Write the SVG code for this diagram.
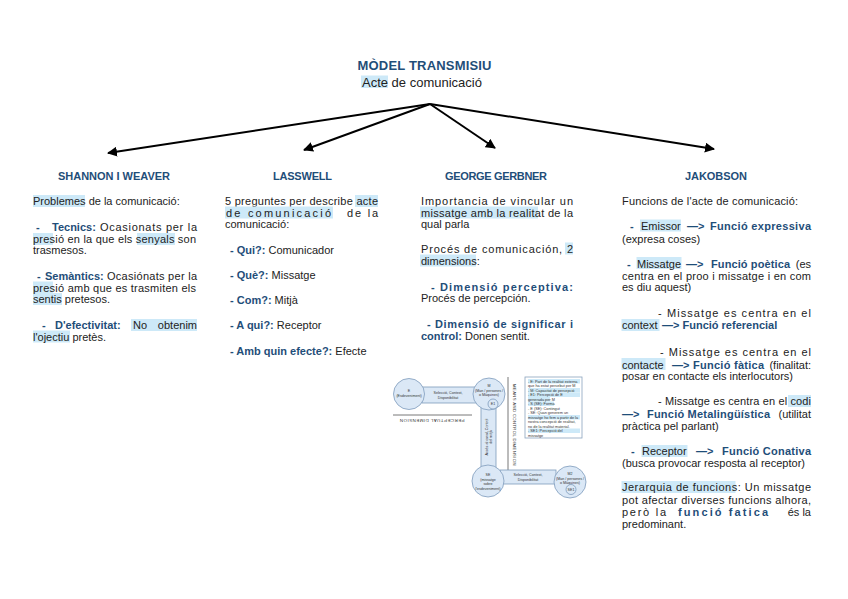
<svg xmlns="http://www.w3.org/2000/svg" width="848" height="599" viewBox="0 0 848 599">
<style>
.t{font-family:"Liberation Sans",Arial,sans-serif;font-size:11px;fill:#222}
.b{font-family:"Liberation Sans",Arial,sans-serif;font-size:11px;font-weight:bold;fill:#1f4e79}
.h{font-family:"Liberation Sans",Arial,sans-serif;font-size:11px;font-weight:bold;fill:#1f4e79;text-anchor:middle}
.hl{fill:#cde9f8}
.arr{stroke:#000;stroke-width:2;fill:none;marker-end:url(#ah)}
.mc{fill:#dbe8f6;stroke:#7d9bbb;stroke-width:0.8}
.mt{font-family:"Liberation Sans",Arial,sans-serif;font-size:3.6px;fill:#333;text-anchor:middle}
.ms{font-family:"Liberation Sans",Arial,sans-serif;font-size:3.8px;fill:#333}
</style>
<defs>
<marker id="ah" viewBox="0 0 10 10" refX="9" refY="5" markerWidth="5" markerHeight="5" orient="auto" markerUnits="strokeWidth"><path d="M0,0 L10,5 L0,10 z" fill="#000"/></marker>
</defs>
<rect width="848" height="599" fill="#fff"/>

<g id="title">
<text x="424.5" y="69.5" class="h" style="font-size:13px" textLength="134">MÒDEL TRANSMISIU</text>
<rect class="hl" x="361" y="75.5" width="27" height="12.5"/>
<text x="362" y="86.5" class="t" style="font-size:13px">Acte de comunicació</text>
</g>

<g id="connectors">
<line class="arr" x1="430" y1="104" x2="108" y2="153"/>
<line class="arr" x1="430" y1="104" x2="304" y2="150"/>
<line class="arr" x1="430" y1="104" x2="495" y2="148"/>
<line class="arr" x1="430" y1="104" x2="714" y2="149"/>
</g>

<g id="shannon">
<text x="114" y="180" class="h" textLength="112">SHANNON I WEAVER</text>
<rect class="hl" x="33" y="195" width="52" height="12"/>
<text x="33" y="205" class="t">Problemes de la comunicació:</text>
<text x="36" y="231" class="b">-</text>
<text x="52" y="231" class="b">Tecnics:</text>
<text x="100" y="231" class="t" textLength="97" lengthAdjust="spacing">Ocasionats per la</text>
<rect class="hl" x="33" y="233" width="20" height="12"/>
<rect class="hl" x="137" y="233" width="38" height="12"/>
<text x="33" y="242.5" class="t" textLength="163" lengthAdjust="spacing">presió en la que els senyals son</text>
<text x="33" y="254" class="t">trasmesos.</text>
<text x="37" y="280" class="b">-</text>
<text x="45" y="280" class="b">Semàntics:</text>
<text x="107" y="280" class="t" textLength="90" lengthAdjust="spacing">Ocasiónats per la</text>
<rect class="hl" x="33" y="281.5" width="20" height="12"/>
<rect class="hl" x="33" y="293" width="29" height="12"/>
<text x="33" y="291.5" class="t" textLength="163" lengthAdjust="spacing">presió amb que es trasmiten els</text>
<text x="33" y="303" class="t">sentis pretesos.</text>
<text x="42" y="329" class="b">-</text>
<text x="55" y="329" class="b">D'efectivitat:</text>
<rect class="hl" x="131" y="319" width="66" height="12"/>
<text x="133" y="329" class="t">No</text>
<text x="197" y="329" class="t" style="text-anchor:end">obtenim</text>
<rect class="hl" x="33" y="330.5" width="37" height="12"/>
<text x="33" y="340.5" class="t">l'ojectiu pretès.</text>
</g>

<g id="lasswell">
<text x="302.5" y="180" class="h" textLength="59">LASSWELL</text>
<rect class="hl" x="355" y="195" width="23" height="12"/>
<text x="225" y="205" class="t" textLength="153" lengthAdjust="spacing">5 preguntes per describe acte</text>
<rect class="hl" x="225" y="206.5" width="108" height="12"/>
<text x="226" y="216.5" class="t" textLength="105" lengthAdjust="spacing">de comunicació</text>
<text x="347" y="216.5" class="t" textLength="31" lengthAdjust="spacing">de la</text>
<text x="225" y="228" class="t">comunicació:</text>
<text x="230" y="254" class="t"><tspan class="b">- Qui?:</tspan> Comunicador</text>
<text x="230" y="279" class="t"><tspan class="b">- Què?:</tspan> Missatge</text>
<text x="230" y="304" class="t"><tspan class="b">- Com?:</tspan> Mitjà</text>
<text x="230" y="329" class="t"><tspan class="b">- A qui?:</tspan> Receptor</text>
<text x="230" y="354.5" class="t"><tspan class="b">- Amb quin efecte?:</tspan> Efecte</text>
</g>

<g id="gerbner">
<text x="496" y="180" class="h" textLength="102">GEORGE GERBNER</text>
<text x="421" y="205" class="t" textLength="152" lengthAdjust="spacing">Importancia de vincular un</text>
<rect class="hl" x="420" y="206.5" width="118" height="12"/>
<text x="421" y="216.5" class="t" textLength="152" lengthAdjust="spacing">missatge amb la realitat de la</text>
<text x="421" y="228" class="t">qual parla</text>
<rect class="hl" x="565" y="242.5" width="8" height="12"/>
<text x="421" y="253" class="t" textLength="152" lengthAdjust="spacing">Procés de comunicación, 2</text>
<rect class="hl" x="420" y="254.5" width="56" height="12"/>
<text x="421" y="265" class="t">dimensions:</text>
<text x="431" y="291" class="b" textLength="142" lengthAdjust="spacing">- Dimensió perceptiva:</text>
<text x="421" y="301.5" class="t">Procés de percepción.</text>
<text x="427" y="328" class="b" textLength="146" lengthAdjust="spacing">- Dimensió de significar i</text>
<text x="421" y="340" class="t"><tspan class="b">control:</tspan> Donen sentit.</text>
</g>

<g id="mini-diagram">
<rect class="mc" x="422" y="387" width="54" height="16"/>
<circle class="mc" cx="409" cy="394" r="15.5"/>
<text class="mt" x="409" y="392">E</text>
<text class="mt" x="409" y="397">(Esdeveniment)</text>
<text class="mt" x="448" y="394">Selecció, Context,</text>
<text class="mt" x="448" y="398.5">Disponibilitat</text>
<rect class="mc" x="481" y="405" width="15" height="64"/>
<circle class="mc" cx="489" cy="394" r="16"/>
<text class="mt" x="489" y="387">M</text>
<text class="mt" x="489" y="391.5">(Man / persones /</text>
<text class="mt" x="489" y="396">o Màquines)</text>
<circle class="mc" cx="493" cy="404" r="5"/>
<text class="mt" x="493" y="405.3">E1</text>
<text class="mt" transform="translate(488.5,437) rotate(-90)" x="0" y="-1">Accés al canal, Control</text>
<text class="mt" transform="translate(488.5,437) rotate(-90)" x="0" y="3.5">del mitjà</text>
<line x1="393" y1="415" x2="472" y2="415" stroke="#555" stroke-width="0.8"/>
<text class="mt" style="font-size:4.4px;letter-spacing:0.5px" transform="translate(432,418.5) rotate(180)">PERCEPTUAL DIMENSION</text>
<line x1="508" y1="377" x2="508" y2="470" stroke="#555" stroke-width="0.8"/>
<text class="mt" style="font-size:4.2px;letter-spacing:0.4px" transform="translate(513,425) rotate(90)">MEANS AND CONTROL DIMENSION</text>
<rect class="mc" x="500" y="470" width="56" height="14"/>
<circle class="mc" cx="488" cy="481" r="16"/>
<text class="mt" x="488" y="476">SE</text>
<text class="mt" x="488" y="480.5">(missatge</text>
<text class="mt" x="488" y="485">sobre</text>
<text class="mt" x="488" y="489.5">l'esdeveniment)</text>
<text class="mt" x="528" y="476">Selecció, Context,</text>
<text class="mt" x="528" y="480.5">Disponibilitat</text>
<circle class="mc" cx="570" cy="482" r="16"/>
<text class="mt" x="570" y="475">M2</text>
<text class="mt" x="570" y="479.5">(Man / persones /</text>
<text class="mt" x="570" y="484">o Màquines)</text>
<circle class="mc" cx="571" cy="489.5" r="5"/>
<text class="mt" x="571" y="490.8">SE1</text>
<rect x="525" y="377" width="57" height="61" fill="#fff" stroke="#8aa3bd" stroke-width="0.8"/>
<rect class="hl" x="528" y="379" width="52" height="4.5"/>
<rect class="hl" x="528" y="388" width="52" height="4.5"/>
<rect class="hl" x="528" y="392.5" width="52" height="4.5"/>
<rect class="hl" x="528" y="397" width="22" height="4.5"/>
<rect class="hl" x="528" y="401.5" width="26" height="4.5"/>
<rect class="hl" x="528" y="415" width="52" height="4.5"/>
<rect class="hl" x="528" y="428.5" width="52" height="4.5"/>
<text class="ms" x="528" y="382.5">- E: Part de la realitat externa</text>
<text class="ms" x="528" y="387">que ha estat percebut per M</text>
<text class="ms" x="528" y="391.5">- M: Capacitat de percepció</text>
<text class="ms" x="528" y="396">- E1: Percepció de E</text>
<text class="ms" x="528" y="400.5">generada per M</text>
<text class="ms" x="528" y="405">- S (SE): Forma</text>
<text class="ms" x="528" y="409.5">- E (SE): Contingut</text>
<text class="ms" x="528" y="414">- SE: Quan generem un</text>
<text class="ms" x="528" y="418.5">missatge ho fem a partir de la</text>
<text class="ms" x="528" y="423">nostra concepció de realitat,</text>
<text class="ms" x="528" y="427.5">no de la realitat material.</text>
<text class="ms" x="528" y="432">- SE1: Percepció del</text>
<text class="ms" x="528" y="436.5">missatge</text>
</g>

<g id="jakobson">
<text x="716" y="180" class="h" textLength="62">JAKOBSON</text>
<text x="622" y="205" class="t" textLength="176" lengthAdjust="spacing">Funcions de l'acte de comunicació:</text>
<text x="630" y="230" class="b">-</text>
<rect class="hl" x="640" y="219.5" width="41" height="12"/>
<text x="641" y="230" class="t">Emissor</text>
<text x="687" y="230" class="b">—&gt;</text>
<text x="710" y="230" class="b" textLength="101" lengthAdjust="spacing">Funció expressiva</text>
<text x="622" y="243" class="t">(expresa coses)</text>
<text x="627" y="267.5" class="b">-</text>
<rect class="hl" x="636.5" y="257" width="45" height="12"/>
<text x="637" y="267.5" class="t">Missatge</text>
<text x="686" y="267.5" class="b">—&gt;</text>
<text x="711" y="267.5" class="b" textLength="79" lengthAdjust="spacing">Funció poètica</text>
<text x="811" y="267.5" class="t" style="text-anchor:end">(es</text>
<text x="622" y="280" class="t" textLength="189" lengthAdjust="spacing">centra en el proo i missatge i en com</text>
<text x="622" y="291" class="t">es diu aquest)</text>
<text x="658" y="317" class="t" textLength="153" lengthAdjust="spacing">- Missatge es centra en el</text>
<rect class="hl" x="621.5" y="319" width="38" height="12"/>
<text x="622" y="329" class="t">context</text>
<text x="662" y="329" class="b">—&gt; Funció referencial</text>
<text x="660" y="356" class="t" textLength="151" lengthAdjust="spacing">- Missatge es centra en el</text>
<rect class="hl" x="621.5" y="358" width="44" height="12"/>
<text x="622" y="368.5" class="t">contacte</text>
<text x="672" y="368.5" class="b">—&gt;</text>
<text x="693" y="368.5" class="b" textLength="71" lengthAdjust="spacing">Funció fàtica</text>
<text x="811" y="368.5" class="t" style="text-anchor:end">(finalitat:</text>
<text x="622" y="380" class="t" textLength="171" lengthAdjust="spacing">posar en contacte els interlocutors)</text>
<rect class="hl" x="788" y="395" width="23" height="12"/>
<text x="658" y="405" class="t" textLength="153" lengthAdjust="spacing">- Missatge es centra en el codi</text>
<text x="622" y="418" class="b">—&gt;</text>
<text x="647" y="418" class="b" textLength="123" lengthAdjust="spacing">Funció Metalingüística</text>
<text x="811" y="418" class="t" style="text-anchor:end">(utilitat</text>
<text x="622" y="430" class="t">pràctica pel parlant)</text>
<text x="631" y="455" class="b">-</text>
<rect class="hl" x="641.5" y="445" width="46" height="12"/>
<text x="642" y="455" class="t">Receptor</text>
<text x="696" y="455" class="b">—&gt;</text>
<text x="722" y="455" class="b" textLength="89" lengthAdjust="spacing">Funció Conativa</text>
<text x="622" y="467" class="t" textLength="183" lengthAdjust="spacing">(busca provocar resposta al receptor)</text>
<rect class="hl" x="621.5" y="481" width="114" height="12"/>
<text x="622" y="491" class="t" textLength="189" lengthAdjust="spacing">Jerarquia de funcions: Un missatge</text>
<text x="622" y="503.5" class="t" textLength="189" lengthAdjust="spacing">pot afectar diverses funcions alhora,</text>
<text x="622" y="516" class="t" textLength="44" lengthAdjust="spacing">però la</text>
<text x="678" y="516" class="b" textLength="90" lengthAdjust="spacing">funció fatica</text>
<text x="811" y="516" class="t" style="text-anchor:end">és la</text>
<text x="622" y="527.5" class="t">predominant.</text>
</g>
</svg>
